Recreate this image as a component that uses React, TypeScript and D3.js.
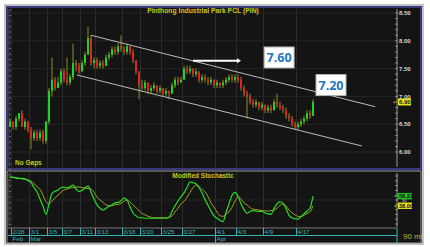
import React from "react";
import * as d3 from "d3";

// ---------- DATA ----------
const title = "Pinthong Industrial Park PCL (PIN)";
const firstOpen = 6.45;
const closes = [
  6.55, 6.45, 6.6, 6.7, 6.45, 6.55, 6.4, 6.25, 6.35, 6.25,
  6.35, 6.2, 6.55, 7.1, 7.3, 7.15, 7.25, 7.45, 7.3, 7.25,
  7.35, 7.6, 7.55, 7.45, 7.6, 7.75, 8.05, 7.6, 7.65, 7.55,
  7.6, 7.55, 7.7, 7.75, 7.85, 7.8, 7.9, 7.85, 7.8, 7.9,
  7.8, 7.65, 7.45, 7.2, 7.15, 7.25, 7.1, 7.15, 7.2, 7.1,
  7.15, 7.05, 7.1, 7.05, 7.2, 7.3, 7.25, 7.3, 7.5, 7.45,
  7.5, 7.4, 7.45, 7.3, 7.35, 7.3, 7.25, 7.3, 7.2, 7.25,
  7.2, 7.25, 7.3, 7.35, 7.3, 7.35, 7.3, 7.15, 7.05, 7.0,
  6.9, 6.85, 6.9, 6.8, 6.85, 6.75, 6.8, 6.75, 6.9, 6.85,
  6.8, 6.75, 6.65, 6.6, 6.5, 6.45, 6.5, 6.55, 6.6, 6.7,
  6.65, 6.9,
];
const highs = [
  6.6, 6.55, 6.65, 6.7, 6.75, 6.6, 6.55, 6.45, 6.4, 6.4,
  6.4, 6.4, 6.55, 7.15, 7.7, 7.35, 7.35, 7.5, 7.5, 7.7,
  7.4, 7.95, 7.65, 7.6, 7.65, 7.8, 8.25, 8.1, 7.7, 7.7,
  7.65, 7.65, 7.75, 7.8, 7.9, 7.9, 7.95, 8.1, 7.9, 7.95,
  7.9, 7.85, 7.65, 7.45, 7.3, 7.3, 7.25, 7.2, 7.25, 7.2,
  7.2, 7.15, 7.15, 7.1, 7.25, 7.35, 7.35, 7.35, 7.55, 7.55,
  7.55, 7.5, 7.5, 7.45, 7.4, 7.4, 7.35, 7.35, 7.3, 7.3,
  7.25, 7.3, 7.35, 7.4, 7.4, 7.4, 7.4, 7.35, 7.2, 7.1,
  7.05, 6.95, 6.95, 6.9, 6.9, 6.85, 6.85, 6.85, 6.95, 7.05,
  6.9, 6.85, 6.8, 6.7, 6.65, 6.55, 6.55, 6.6, 6.65, 6.75,
  6.75, 6.95,
];
const lows = [
  6.45, 6.4, 6.4, 6.55, 6.45, 6.4, 6.35, 6.05, 6.2, 6.2,
  6.2, 6.15, 6.15, 6.5, 7.0, 7.1, 7.15, 7.2, 7.25, 7.2,
  7.2, 7.3, 7.45, 7.4, 7.45, 7.55, 7.75, 7.55, 7.5, 7.5,
  7.5, 7.5, 7.55, 7.65, 7.7, 7.75, 7.75, 7.8, 7.75, 7.75,
  7.75, 7.6, 7.4, 6.95, 7.1, 7.1, 7.05, 7.05, 7.1, 7.05,
  7.05, 7.0, 7.0, 6.95, 7.05, 7.15, 7.2, 7.25, 7.3, 7.4,
  7.4, 7.35, 7.35, 7.25, 7.25, 7.25, 7.2, 7.2, 7.15, 7.15,
  7.15, 7.15, 7.2, 7.25, 7.25, 7.25, 7.25, 7.1, 7.0, 6.6,
  6.85, 6.8, 6.8, 6.75, 6.75, 6.7, 6.7, 6.7, 6.75, 6.8,
  6.75, 6.7, 6.6, 6.55, 6.45, 6.4, 6.4, 6.45, 6.5, 6.55,
  6.6, 6.65,
];
const stochFast = [
  98, 97, 96, 95, 95, 94, 90, 86, 76, 67,
  52, 37, 20, 42, 64, 68, 71, 76, 77, 75,
  78, 81, 73, 68, 70, 75, 79, 66, 52, 40,
  33, 29, 33, 37, 40, 44, 45, 48, 54, 50,
  36, 23, 17, 13, 13, 12, 12, 12, 12, 12,
  12, 12, 12, 14, 26, 38, 48, 57, 65, 76,
  88, 86, 84, 76, 65, 51, 39, 27, 17, 12,
  8, 5, 24, 42, 60, 66, 58, 42, 30, 22,
  26, 28, 27, 26, 26, 23, 21, 20, 32, 42,
  46, 43, 32, 18, 13, 11, 10, 16, 21, 27,
  33, 58,
];
const stochSlow = [
  98, 97, 96, 95, 94, 93, 92, 89, 84, 78,
  72, 60, 46, 42, 48, 54, 60, 66, 71, 73,
  75, 76, 77, 77, 76, 75, 74, 73, 66, 56,
  50, 45, 40, 38, 38, 40, 41, 43, 47, 50,
  46, 40, 34, 28, 22, 19, 16, 14, 13, 13,
  13, 13, 13, 14, 17, 25, 33, 42, 47, 56,
  66, 76, 81, 78, 72, 67, 57, 44, 35, 25,
  17, 16, 20, 25, 35, 48, 57, 52, 44, 40,
  34, 31, 30, 29, 28, 27, 27, 28, 29, 33,
  39, 42, 38, 29, 24, 19, 16, 15, 18, 22,
  25, 38,
];
const dateLabels = ["2/28", "3/1", "3/5", "3/7", "3/11", "3/13", "3/18", "3/20", "3/25", "3/27", "4/1", "4/3", "4/9", "4/17"];
const dateIdx = [1, 7, 13, 18, 24, 29, 38, 44, 51, 58, 69, 76, 85, 96];
const monthLabels = ["Feb", "Mar", "Apr"];
const monthIdx = [1, 7, 69];
const priceTicks = [8.5, 8.0, 7.5, 7.0, 6.5, 6.0];
// trend channel (bar index, price)
const upperLine = [[27, 8.1], [121.7, 6.815]];
const lowerLine = [[22.3, 7.385], [117.3, 6.108]];
const arrowLine = [[61, 7.64], [77, 7.64]];
const noteTexts = ["7.60", "7.20"];
const noteIdx = [89.7, 107];
const notePrice = [7.70, 7.205];
const lastFastLabel = "58.22";
const lastSlowLabel = "38.00";
const stochTitle = "Modified Stochastic";

// ---------- COMPONENT ----------
export default function App() {
  const W = 430, H = 247;
  const x = d3.scaleLinear().domain([0, 101]).range([10, 313]);
  const y = d3.scaleLinear().domain([6.0, 8.5]).range([152, 13]);
  const ys = d3.scaleLinear().domain([0, 100]).range([224, 176]);

  const opens = closes.map((c, i) => (i === 0 ? firstOpen : closes[i - 1]));
  const green = "#1fd61f", red = "#e02424", olive = "#8c8c20";

  const stochLine = d3.line<number>().x((_, i) => x(i)).y((v) => ys(v)).curve(d3.curveMonotoneX);
  const teal = "#34b4b4";
  const font = "'Liberation Sans', Arial, sans-serif";

  const priceMinor = d3.range(60, 86).map((v) => v / 10);
  const stochMinor = d3.range(0, 101, 10);
  const leftMinor = d3.range(0, 30);

  const last = closes[closes.length - 1];

  return (
    <svg width={W} height={H} style={{ position: "absolute", left: 0, top: 0 }} fontFamily={font}>
      <rect x={0} y={0} width={W} height={H} fill="#ffffff" />
      <rect x={5} y={5} width={418} height={239} fill="#141414" stroke="#c4c4c4" strokeWidth={2} />
      {/* main panel border */}
      <rect x={7} y={7} width={414} height={162} fill="#141414" stroke="#5050c0" strokeWidth={1.2} />
      {/* lower panel border */}
      <rect x={7} y={171} width={414} height={72} fill="#141414" stroke="#9a9a9a" strokeWidth={1} />

      {/* vertical grid */}
      {dateIdx.map((d, k) => (
        <g key={"vg" + k}>
          <line x1={x(d) - 1.5} x2={x(d) - 1.5} y1={8} y2={168} stroke="#2b2b2b" strokeWidth={1} />
          <line x1={x(d) - 1.5} x2={x(d) - 1.5} y1={172} y2={227} stroke="#2b2b2b" strokeWidth={1} />
        </g>
      ))}
      {/* horizontal grid */}
      {priceTicks.map((p) => (
        <line key={"hg" + p} x1={9} x2={396} y1={y(p)} y2={y(p)} stroke="#262626" strokeWidth={1} />
      ))}
      <line x1={9} x2={396} y1={ys(50)} y2={ys(50)} stroke="#242424" strokeWidth={1} />

      {/* left tick scales */}
      <line x1={9} x2={9} y1={9} y2={167} stroke="#777" strokeWidth={0.6} />
      {leftMinor.map((k) => (
        <line key={"lt" + k} x1={9} x2={11} y1={10 + k * 5.5} y2={10 + k * 5.5} stroke="#999" strokeWidth={0.6} />
      ))}
      <line x1={9} x2={9} y1={173} y2={226} stroke="#777" strokeWidth={0.6} />
      {d3.range(0, 10).map((k) => (
        <line key={"lt2" + k} x1={9} x2={11} y1={175 + k * 5.5} y2={175 + k * 5.5} stroke="#999" strokeWidth={0.6} />
      ))}

      {/* right price axis */}
      <line x1={397} x2={397} y1={9} y2={167} stroke="#bdbdbd" strokeWidth={0.8} />
      {priceMinor.map((p) => (
        <line key={"pt" + p} x1={395} x2={398} y1={y(p)} y2={y(p)} stroke="#bdbdbd" strokeWidth={0.6} />
      ))}
      {priceTicks.map((p) => (
        <text key={"pl" + p} x={399} y={y(p) + 2.2} fontSize={6} fill="#d8d8d8" fontWeight="bold">
          {p.toFixed(2)}
        </text>
      ))}

      {/* title */}
      <text x={203} y={13} fontSize={6.8} fontWeight="bold" fill="#c8c814" textAnchor="middle">{title}</text>
      <text x={15} y={165} fontSize={6.5} fontWeight="bold" fill="#c8c814">No Gaps</text>

      {/* candles */}
      {closes.map((c, i) => {
        const o = opens[i];
        const col = c > o ? green : c < o ? red : olive;
        const top = y(Math.max(o, c));
        const bot = y(Math.min(o, c));
        return (
          <g key={"c" + i}>
            <line x1={x(i)} x2={x(i)} y1={y(highs[i])} y2={y(lows[i])} stroke={olive} strokeWidth={1} />
            <rect x={x(i) - 1} y={top} width={2} height={Math.max(1, bot - top)} fill={col} />
          </g>
        );
      })}

      {/* trend channel */}
      {[upperLine, lowerLine].map((ln, k) => (
        <line key={"tl" + k} x1={x(ln[0][0])} y1={y(ln[0][1])} x2={x(ln[1][0])} y2={y(ln[1][1])} stroke="#bcbcbc" strokeWidth={1} />
      ))}
      <line x1={x(arrowLine[0][0])} y1={y(arrowLine[0][1])} x2={x(arrowLine[1][0]) - 3} y2={y(arrowLine[1][1])} stroke="#ffffff" strokeWidth={2} />
      <path
        d={`M${x(arrowLine[1][0])},${y(arrowLine[1][1])} l-4,-2.5 l0,5 Z`}
        fill="#ffffff"
      />
      {noteTexts.map((t, k) => (
        <g key={"n" + k}>
          <rect x={x(noteIdx[k]) - 15} y={y(notePrice[k]) - 10.5} width={30} height={21} fill="#ffffff" stroke="#b0b0b0" strokeWidth={1} />
          <text x={x(noteIdx[k])} y={y(notePrice[k]) + 4.5} fontSize={12.5} fontWeight="bold" fill="#1e74c6" textAnchor="middle" fontFamily="'Open Sans', 'DejaVu Sans', sans-serif">
            {t}
          </text>
        </g>
      ))}

      {/* last price marker */}
      <text x={395} y={y(last) + 2} fontSize={5} fill="#d8d818" textAnchor="end">•</text>
      <rect x={398} y={y(last) - 3.5} width={13} height={7} fill="#e6e61a" />
      <text x={399} y={y(last) + 2.3} fontSize={6} fill="#1a1a1a" fontWeight="bold">{last.toFixed(2)}</text>

      {/* lower panel */}
      <text x={203} y={178} fontSize={6.5} fontWeight="bold" fill="#c8c814" textAnchor="middle">{stochTitle}</text>
      <line x1={397} x2={397} y1={173} y2={227} stroke="#bdbdbd" strokeWidth={0.8} />
      {stochMinor.map((v) => (
        <line key={"st" + v} x1={395} x2={398} y1={ys(v)} y2={ys(v)} stroke="#bdbdbd" strokeWidth={0.6} />
      ))}
      <path d={stochLine(stochSlow) || ""} fill="none" stroke="#a2a028" strokeWidth={1} />
      <path d={stochLine(stochFast) || ""} fill="none" stroke="#22e022" strokeWidth={1.2} />
      <text x={396} y={ys(stochFast[101]) + 2} fontSize={5} fill="#22e022" textAnchor="end">•</text>
      <rect x={398} y={ys(stochFast[101]) - 3.2} width={14} height={6.4} fill="#1ec81e" />
      <text x={399} y={ys(stochFast[101]) + 2} fontSize={5.6} fill="#0a0a0a" fontWeight="bold">{lastFastLabel}</text>
      <text x={396} y={ys(stochSlow[101]) + 2} fontSize={5} fill="#e6e61a" textAnchor="end">•</text>
      <rect x={398} y={ys(stochSlow[101]) - 3.2} width={14} height={6.4} fill="#e6e61a" />
      <text x={399} y={ys(stochSlow[101]) + 2} fontSize={5.6} fill="#0a0a0a" fontWeight="bold">{lastSlowLabel}</text>
      <text x={402} y={ys(50) + 1.8} fontSize={4.2} fill="#cfcfcf">50</text>

      {/* date axis */}
      <line x1={8} x2={397} y1={228} y2={228} stroke="#7a7a7a" strokeWidth={1.2} />
      <line x1={8} x2={397} y1={235.5} y2={235.5} stroke={teal} strokeWidth={1} />
      <line x1={397} x2={397} y1={228} y2={243} stroke={teal} strokeWidth={1} />
      {dateLabels.map((t, k) => (
        <g key={"d" + k}>
          <line x1={x(dateIdx[k]) - 1.5} x2={x(dateIdx[k]) - 1.5} y1={228} y2={235} stroke={teal} strokeWidth={1} />
          <text x={x(dateIdx[k]) - 0.5} y={233.8} fontSize={6.2} fill={teal}>{t}</text>
        </g>
      ))}
      {monthLabels.map((t, k) => (
        <g key={"m" + k}>
          {k > 0 && <line x1={x(monthIdx[k]) - 1.5} x2={x(monthIdx[k]) - 1.5} y1={235.5} y2={243} stroke={teal} strokeWidth={1} />}
          <text x={x(monthIdx[k]) - 0.5} y={241.3} fontSize={6.2} fill={teal}>{t}</text>
        </g>
      ))}
      <text x={403} y={239} fontSize={8} fill="#b4b43c">90 mi</text>
    </svg>
  );
}
